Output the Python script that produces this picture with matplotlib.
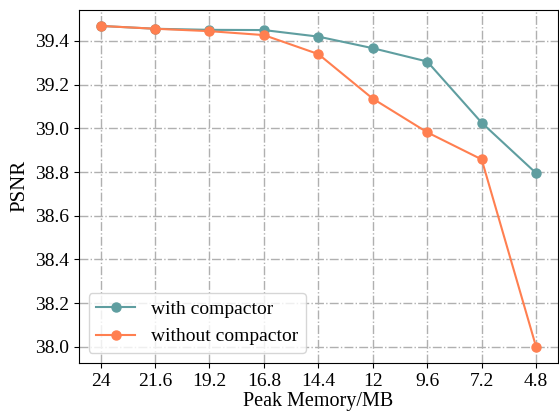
import matplotlib.pyplot as plt

plt.rcParams['font.family'] = ['Liberation Serif', 'DejaVu Serif']
plt.rcParams['mathtext.fontset'] = 'stix'

memory_labels = ['24', '21.6', '19.2', '16.8', '14.4', '12', '9.6', '7.2', '4.8']
with_compactor = [39.469, 39.456, 39.451, 39.450, 39.420, 39.367, 39.306, 39.026, 38.795]
without_compactor = [39.469, 39.456, 39.445, 39.427, 39.340, 39.136, 38.982, 38.858, 38.000]

fig, ax = plt.subplots(figsize=(5.59, 4.11), dpi=100)
x = range(len(memory_labels))

ax.plot(x, with_compactor, marker='o', color='#5F9EA0', linewidth=1.5, markersize=6.5,
        label='with compactor')
ax.plot(x, without_compactor, marker='o', color='#FF7F50', linewidth=1.5, markersize=6.5,
        label='without compactor')

ax.set_xticks(list(x))
ax.set_xticklabels(memory_labels)
ax.tick_params(labelsize=14)
ax.set_xlabel('Peak Memory/MB', fontsize=14.5, labelpad=2)
ax.set_ylabel('PSNR', fontsize=15)
ax.grid(True, linestyle='-.', color='#b0b0b0', linewidth=1)
ax.legend(loc='lower left', fontsize=14)

plt.subplots_adjust(left=0.141, right=0.998, top=0.976, bottom=0.117)
plt.savefig('out.png', dpi=100)
